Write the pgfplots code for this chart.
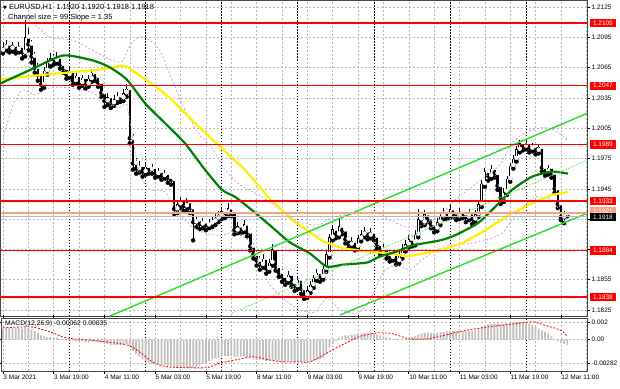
\documentclass[border=0pt]{standalone}
\usepackage{pgfplots}
\usepackage{pgfplotstable}
\pgfplotsset{compat=1.18}
\usepackage{fontspec}
\setmainfont{Liberation Sans}
\newfontfamily\dejavu{DejaVu Sans}
\definecolor{mtred}{RGB}{255,0,0}
\definecolor{mtorange}{RGB}{244,164,128}
\definecolor{mtlime}{RGB}{40,220,40}
\definecolor{mtlimed}{RGB}{110,230,110}
\definecolor{mtgreen}{RGB}{0,128,0}
\definecolor{mtyellow}{RGB}{255,240,0}
\definecolor{mtviolet}{RGB}{200,150,225}
\definecolor{mtgrid}{RGB}{185,185,185}
\definecolor{mtsilver}{RGB}{192,192,192}
\definecolor{mtframe}{RGB}{70,70,70}

\pgfplotstableread{
i o h l c
0 1.2082 1.2090 1.2079 1.2085
1 1.2085 1.2092 1.2082 1.2088
2 1.2088 1.2091 1.2080 1.2084
3 1.2084 1.2090 1.2081 1.2087
4 1.2087 1.2089 1.2079 1.2083
5 1.2083 1.2090 1.2080 1.2086
6 1.2086 1.2088 1.2074 1.2080
7 1.2080 1.2112 1.2076 1.2095
8 1.2095 1.2104 1.2082 1.2088
9 1.2088 1.2092 1.2070 1.2076
10 1.2076 1.2080 1.2060 1.2065
11 1.2065 1.2070 1.2052 1.2058
12 1.2058 1.2061 1.2043 1.2048
13 1.2048 1.2066 1.2045 1.2062
14 1.2062 1.2074 1.2058 1.2070
15 1.2070 1.2079 1.2066 1.2074
16 1.2074 1.2078 1.2068 1.2072
17 1.2072 1.2080 1.2069 1.2075
18 1.2075 1.2077 1.2064 1.2068
19 1.2068 1.2071 1.2060 1.2064
20 1.2064 1.2067 1.2054 1.2058
21 1.2058 1.2066 1.2055 1.2062
22 1.2062 1.2064 1.2048 1.2052
23 1.2052 1.2061 1.2049 1.2057
24 1.2057 1.2059 1.2045 1.2050
25 1.2050 1.2058 1.2047 1.2055
26 1.2055 1.2057 1.2044 1.2049
27 1.2049 1.2058 1.2046 1.2054
28 1.2054 1.2064 1.2051 1.2060
29 1.2060 1.2063 1.2052 1.2056
30 1.2056 1.2058 1.2046 1.2050
31 1.2050 1.2053 1.2036 1.2040
32 1.2040 1.2043 1.2026 1.2032
33 1.2032 1.2040 1.2028 1.2036
34 1.2036 1.2038 1.2025 1.2030
35 1.2030 1.2038 1.2027 1.2034
36 1.2034 1.2041 1.2030 1.2037
37 1.2037 1.2040 1.2031 1.2035
38 1.2035 1.2044 1.2032 1.2040
39 1.2040 1.2049 1.2036 1.2044
40 1.2044 1.2047 1.1990 1.1995
41 1.1995 1.1999 1.1964 1.1970
42 1.1970 1.1975 1.1960 1.1965
43 1.1965 1.1973 1.1961 1.1968
44 1.1968 1.1971 1.1957 1.1962
45 1.1962 1.1972 1.1959 1.1967
46 1.1967 1.1970 1.1960 1.1964
47 1.1964 1.1970 1.1960 1.1966
48 1.1966 1.1968 1.1956 1.1960
49 1.1960 1.1966 1.1957 1.1962
50 1.1962 1.1964 1.1954 1.1958
51 1.1958 1.1964 1.1955 1.1960
52 1.1960 1.1962 1.1951 1.1956
53 1.1956 1.1959 1.1949 1.1954
54 1.1954 1.1956 1.1920 1.1925
55 1.1925 1.1934 1.1921 1.1930
56 1.1930 1.1937 1.1926 1.1934
57 1.1934 1.1936 1.1923 1.1928
58 1.1928 1.1936 1.1924 1.1932
59 1.1932 1.1934 1.1921 1.1926
60 1.1926 1.1929 1.1894 1.1912
61 1.1912 1.1918 1.1907 1.1914
62 1.1914 1.1916 1.1905 1.1910
63 1.1910 1.1916 1.1906 1.1912
64 1.1912 1.1914 1.1904 1.1909
65 1.1909 1.1915 1.1906 1.1911
66 1.1911 1.1917 1.1907 1.1913
67 1.1913 1.1920 1.1909 1.1916
68 1.1916 1.1923 1.1912 1.1919
69 1.1919 1.1927 1.1915 1.1923
70 1.1923 1.1926 1.1916 1.1921
71 1.1921 1.1931 1.1918 1.1926
72 1.1926 1.1929 1.1918 1.1922
73 1.1922 1.1924 1.1900 1.1904
74 1.1904 1.1912 1.1901 1.1908
75 1.1908 1.1911 1.1901 1.1905
76 1.1905 1.1914 1.1902 1.1910
77 1.1910 1.1912 1.1898 1.1902
78 1.1902 1.1905 1.1884 1.1888
79 1.1888 1.1891 1.1876 1.1880
80 1.1880 1.1884 1.1869 1.1874
81 1.1874 1.1878 1.1865 1.1870
82 1.1870 1.1880 1.1867 1.1876
83 1.1876 1.1878 1.1861 1.1866
84 1.1866 1.1876 1.1863 1.1872
85 1.1872 1.1890 1.1869 1.1885
86 1.1885 1.1887 1.1864 1.1868
87 1.1868 1.1871 1.1858 1.1862
88 1.1862 1.1866 1.1853 1.1858
89 1.1858 1.1861 1.1850 1.1855
90 1.1855 1.1864 1.1852 1.1860
91 1.1860 1.1862 1.1848 1.1852
92 1.1852 1.1855 1.1844 1.1849
93 1.1849 1.1859 1.1846 1.1855
94 1.1855 1.1857 1.1841 1.1846
95 1.1846 1.1849 1.1836 1.1840
96 1.1840 1.1849 1.1837 1.1845
97 1.1845 1.1854 1.1842 1.1850
98 1.1850 1.1860 1.1847 1.1857
99 1.1857 1.1866 1.1854 1.1862
100 1.1862 1.1864 1.1853 1.1858
101 1.1858 1.1869 1.1855 1.1866
102 1.1866 1.1883 1.1863 1.1880
103 1.1880 1.1900 1.1877 1.1897
104 1.1897 1.1909 1.1894 1.1905
105 1.1905 1.1907 1.1896 1.1900
106 1.1900 1.1916 1.1897 1.1908
107 1.1908 1.1910 1.1900 1.1904
108 1.1904 1.1906 1.1891 1.1895
109 1.1895 1.1898 1.1886 1.1890
110 1.1890 1.1897 1.1887 1.1893
111 1.1893 1.1895 1.1884 1.1888
112 1.1888 1.1899 1.1885 1.1896
113 1.1896 1.1904 1.1893 1.1900
114 1.1900 1.1907 1.1897 1.1903
115 1.1903 1.1905 1.1895 1.1899
116 1.1899 1.1906 1.1896 1.1902
117 1.1902 1.1904 1.1894 1.1898
118 1.1898 1.1900 1.1886 1.1890
119 1.1890 1.1893 1.1880 1.1884
120 1.1884 1.1890 1.1881 1.1886
121 1.1886 1.1888 1.1876 1.1880
122 1.1880 1.1883 1.1873 1.1877
123 1.1877 1.1884 1.1874 1.1880
124 1.1880 1.1882 1.1870 1.1874
125 1.1874 1.1883 1.1871 1.1879
126 1.1879 1.1890 1.1876 1.1886
127 1.1886 1.1894 1.1883 1.1890
128 1.1890 1.1899 1.1887 1.1895
129 1.1895 1.1898 1.1888 1.1892
130 1.1892 1.1904 1.1889 1.1900
131 1.1900 1.1925 1.1897 1.1915
132 1.1915 1.1918 1.1908 1.1912
133 1.1912 1.1924 1.1909 1.1920
134 1.1920 1.1922 1.1912 1.1916
135 1.1916 1.1918 1.1906 1.1910
136 1.1910 1.1913 1.1902 1.1906
137 1.1906 1.1916 1.1903 1.1912
138 1.1912 1.1922 1.1909 1.1918
139 1.1918 1.1926 1.1915 1.1922
140 1.1922 1.1924 1.1915 1.1919
141 1.1919 1.1929 1.1916 1.1925
142 1.1925 1.1927 1.1917 1.1921
143 1.1921 1.1924 1.1914 1.1918
144 1.1918 1.1926 1.1915 1.1922
145 1.1922 1.1925 1.1916 1.1920
146 1.1920 1.1922 1.1912 1.1917
147 1.1917 1.1925 1.1914 1.1921
148 1.1921 1.1923 1.1910 1.1915
149 1.1915 1.1924 1.1912 1.1920
150 1.1920 1.1934 1.1917 1.1930
151 1.1930 1.1954 1.1927 1.1950
152 1.1950 1.1966 1.1947 1.1962
153 1.1962 1.1964 1.1953 1.1958
154 1.1958 1.1969 1.1955 1.1965
155 1.1965 1.1967 1.1956 1.1960
156 1.1960 1.1962 1.1944 1.1948
157 1.1948 1.1950 1.1930 1.1936
158 1.1936 1.1946 1.1932 1.1942
159 1.1942 1.1958 1.1939 1.1955
160 1.1955 1.1971 1.1952 1.1968
161 1.1968 1.1978 1.1965 1.1975
162 1.1975 1.1987 1.1972 1.1984
163 1.1984 1.1993 1.1981 1.1990
164 1.1990 1.1992 1.1983 1.1987
165 1.1987 1.1993 1.1984 1.1990
166 1.1990 1.1991 1.1981 1.1985
167 1.1985 1.1990 1.1982 1.1987
168 1.1987 1.1989 1.1979 1.1983
169 1.1983 1.1989 1.1980 1.1986
170 1.1986 1.1988 1.1962 1.1966
171 1.1966 1.1969 1.1958 1.1962
172 1.1962 1.1969 1.1959 1.1966
173 1.1966 1.1968 1.1956 1.1960
174 1.1960 1.1962 1.1941 1.1945
175 1.1945 1.1947 1.1926 1.1930
176 1.1930 1.1932 1.1914 1.1917
177 1.1917 1.1923 1.1911 1.1920
178 1.1920 1.1920 1.1918 1.1918
}\candles

\pgfplotstableread{
i m
0 0.0013
1 0.0014
2 0.0014
3 0.0014
4 0.0014
5 0.0014
6 0.0013
7 0.0014
8 0.0014
9 0.0012
10 0.0010
11 0.0008
12 0.0005
13 0.0004
14 0.0003
15 0.0003
16 0.0002
17 0.0002
18 0.0001
19 0.0001
20 0.0000
21 -0.0001
22 -0.0001
23 -0.0002
24 -0.0002
25 -0.0002
26 -0.0003
27 -0.0003
28 -0.0002
29 -0.0002
30 -0.0003
31 -0.0004
32 -0.0005
33 -0.0005
34 -0.0006
35 -0.0006
36 -0.0006
37 -0.0006
38 -0.0006
39 -0.0005
40 -0.0009
41 -0.0013
42 -0.0017
43 -0.0020
44 -0.0023
45 -0.0025
46 -0.0027
47 -0.0028
48 -0.0029
49 -0.0030
50 -0.0030
51 -0.0030
52 -0.0031
53 -0.0031
54 -0.0032
55 -0.0033
56 -0.0033
57 -0.0033
58 -0.0033
59 -0.0033
60 -0.0033
61 -0.0032
62 -0.0031
63 -0.0029
64 -0.0027
65 -0.0025
66 -0.0023
67 -0.0022
68 -0.0021
69 -0.0020
70 -0.0019
71 -0.0019
72 -0.0019
73 -0.0020
74 -0.0020
75 -0.0020
76 -0.0020
77 -0.0021
78 -0.0022
79 -0.0023
80 -0.0024
81 -0.0024
82 -0.0024
83 -0.0025
84 -0.0025
85 -0.0024
86 -0.0024
87 -0.0025
88 -0.0025
89 -0.0026
90 -0.0026
91 -0.0026
92 -0.0026
93 -0.0026
94 -0.0026
95 -0.0027
96 -0.0027
97 -0.0026
98 -0.0025
99 -0.0024
100 -0.0023
101 -0.0021
102 -0.0017
103 -0.0010
104 -0.0005
105 -0.0001
106 0.0002
107 0.0004
108 0.0005
109 0.0005
110 0.0006
111 0.0006
112 0.0007
113 0.0007
114 0.0008
115 0.0008
116 0.0008
117 0.0007
118 0.0006
119 0.0005
120 0.0004
121 0.0003
122 0.0002
123 0.0001
124 0.0001
125 0.0000
126 0.0001
127 0.0001
128 0.0002
129 0.0003
130 0.0004
131 0.0006
132 0.0007
133 0.0008
134 0.0008
135 0.0008
136 0.0008
137 0.0008
138 0.0009
139 0.0009
140 0.0010
141 0.0010
142 0.0010
143 0.0010
144 0.0010
145 0.0010
146 0.0010
147 0.0010
148 0.0010
149 0.0011
150 0.0013
151 0.0015
152 0.0017
153 0.0018
154 0.0019
155 0.0019
156 0.0019
157 0.0018
158 0.0018
159 0.0019
160 0.0020
161 0.0020
162 0.0021
163 0.0021
164 0.0021
165 0.0020
166 0.0019
167 0.0017
168 0.0015
169 0.0013
170 0.0011
171 0.0009
172 0.0007
173 0.0004
174 0.0001
175 -0.0002
176 -0.0004
177 -0.0005
178 -0.0006
}\macd

\tikzset{
  lbl/.style={anchor=west, xshift=3bp, text=white, font=\fontsize{6.5}{7}\selectfont,
    inner xsep=2.8bp, inner ysep=0.8bp, minimum height=8.5bp},
}
\pgfplotsset{
  mtcommon/.style={
    scale only axis, width=586bp, anchor=south west,
    xmin=-0.63, xmax=184.23,
    scaled y ticks=false, scaled x ticks=false,
    axis line style={draw=mtframe, line width=1bp},
    major grid style={mtgrid, line width=0.5bp, dash pattern=on 2bp off 2bp},
    minor grid style={mtgrid, line width=0.5bp, dash pattern=on 2bp off 2bp},
    xtick={0,16,...,176}, minor xtick={8,24,...,184},
    xmajorgrids, xminorgrids, ymajorgrids,
    minor tick length=0pt,
    yticklabel pos=right,
    tick align=outside,
    ytick style={draw=black, line width=0.6bp},
    ticklabel style={font=\fontsize{6.5}{7}\selectfont, text=black},
    yticklabel style={anchor=west, inner sep=1.5bp},
    extra x ticks={21,45,69,93,117,141,165},
    extra x tick labels={},
    extra x tick style={grid=major, major tick length=0pt,
      major grid style={black, line width=0.7bp, dash pattern=on 1.5bp off 1.5bp}},
    clip mode=individual,
  },
}
\begin{document}
\begin{tikzpicture}[x=1bp,y=1bp]
\path[use as bounding box, fill=white] (0,0) rectangle (620,388);
% ---------------- price panel ----------------
\begin{axis}[mtcommon,
  at={(1bp,72bp)}, height=315bp,
  ymin=1.18191, ymax=1.21309,
  xticklabels={}, xtick style={draw=none}, major tick length=3bp,
  ytick={1.1825,1.1855,1.1885,1.1915,1.1945,1.1975,1.2005,1.2035,1.2065,1.2095,1.2125},
  yticklabels={1.1825,1.1855,,,1.1945,1.1975,1.2005,1.2035,1.2065,1.2095,1.2125},
]
% candles: wicks
\addplot[black, only marks, mark=none, forget plot,
  error bars/.cd, y dir=plus, y explicit, error mark=none,
  error bar style={black, line width=0.8bp}]
  table[x=i, y=l, y error plus expr={\thisrow{h}-\thisrow{l}}] \candles;
% candles: bodies
\addplot[black, only marks, mark=none, forget plot,
  error bars/.cd, y dir=plus, y explicit, error mark=none,
  error bar style={black, line width=2.5bp}]
  table[x=i, y expr={min(\thisrow{o},\thisrow{c})},
        y error plus expr={max(abs(\thisrow{c}-\thisrow{o}),0.00008)}] \candles;
% hollow bull bodies
\addplot[white, only marks, mark=none, forget plot,
  error bars/.cd, y dir=plus, y explicit, error mark=none,
  error bar style={white, line width=0.8bp}]
  table[x=i, y expr={\thisrow{o}+0.00007},
        y error plus expr={max(\thisrow{c}-\thisrow{o}-0.00014,0)}] \candles;
% bands
\addplot[mtviolet, line width=0.7bp, dash pattern=on 2bp off 2bp, smooth, tension=0.4] coordinates {
(0,1.2112) (5.4,1.2117) (10.1,1.2107) (14.8,1.2095) (22.1,1.2092) (28.4,1.2082) (33.8,1.2073)
(37.5,1.2071) (40.1,1.2087) (42.6,1.2095) (45.4,1.2094) (49.5,1.2082) (53.3,1.2053) (57.4,1.2023)
(62.1,1.1998) (65.9,1.1986) (70.0,1.1964) (74.8,1.1949) (81.7,1.1937) (89.0,1.1921) (93.7,1.1912)
(99.4,1.1909) (104.1,1.1917) (111.7,1.1921) (118.0,1.1921) (122.1,1.1914) (127.4,1.1907)
(132.5,1.1909) (137.9,1.1919) (142.6,1.1934) (146.7,1.1944) (152.1,1.1957) (156.8,1.1969)
(160.6,1.1990) (164.7,1.2001) (171.0,1.2006) (175.1,1.2001) (178.2,1.1993)};
\addplot[mtviolet, line width=0.7bp, dash pattern=on 2bp off 2bp, smooth, tension=0.4] coordinates {
(0,1.1996) (3.2,1.2028) (6.3,1.2043) (10.1,1.2038) (14.8,1.2045) (21.1,1.2045) (27.4,1.2041)
(32.2,1.2033) (36.3,1.2025) (39.1,1.2028) (41.0,1.1993) (43.2,1.1959) (46.4,1.1944) (51.1,1.1942)
(55.2,1.1922) (59.0,1.1909) (63.7,1.1901) (68.5,1.1899) (73.2,1.1902) (77.3,1.1894) (80.4,1.1873)
(84.2,1.1850) (89.0,1.1835) (93.7,1.1825) (98.4,1.1823) (102.2,1.1837) (106.3,1.1825)
(111.7,1.1822) (115.8,1.1835) (119.9,1.1862) (123.7,1.1869) (128.4,1.1865) (131.5,1.1873)
(136.3,1.1884) (141.0,1.1889) (147.3,1.1891) (152.1,1.1894) (157.4,1.1901) (162.5,1.1922)
(167.8,1.1937) (173.2,1.1934) (175.7,1.1922) (178.2,1.1906)};
% moving averages
\addplot[mtyellow, line width=2.2bp] coordinates {
(-1,1.2053) (10,1.2057) (20.2,1.2060) (30.6,1.2063) (37.5,1.2067) (39.1,1.2066) (49.5,1.2043)
(53.3,1.2033) (60.6,1.2010) (69.1,1.1985) (76.3,1.1964) (83.6,1.1937) (89,1.1921) (92.1,1.1912)
(95.9,1.1904) (100.9,1.1893) (107.3,1.1886) (114.8,1.1883) (122.1,1.1881) (127.4,1.1878)
(132.5,1.1881) (137.9,1.1884) (144.8,1.1891) (152.1,1.1904) (160.6,1.1921) (167.8,1.1932)
(173.2,1.1939) (178.2,1.1942)};
\addplot[mtgreen, line width=2.2bp, smooth, tension=0.4] coordinates {
(-1,1.2049) (9.5,1.2064) (19,1.2077) (28.4,1.2072) (33.8,1.2065) (39.1,1.2053) (45,1.2029)
(51.1,1.2010) (57.4,1.1990) (63.7,1.1964) (69.1,1.1944) (73.2,1.1937) (78.5,1.1924) (84.9,1.1907)
(90.5,1.1892) (96.8,1.1881) (102.2,1.1868) (107.3,1.1870) (114.8,1.1872) (118.9,1.1878)
(124.3,1.1883) (129.3,1.1889) (137.9,1.1894) (142.6,1.1899) (149.8,1.1911) (155.2,1.1927)
(160.6,1.1944) (166.9,1.1957) (173.2,1.1962) (178.2,1.1960)};
% channel
\addplot[mtlime, line width=1.4bp] coordinates {(33.75,1.18191) (184.5,1.20200)};
\addplot[mtlime, line width=1.4bp] coordinates {(106.3,1.18201) (184.5,1.19210)};
\addplot[mtlimed, line width=0.9bp, dash pattern=on 1.5bp off 1.5bp] coordinates {(72.2,1.18220) (184.5,1.19735)};
% horizontal levels
\addplot[gray!55, line width=0.5bp] coordinates {(-1,1.1918) (185,1.1918)};
\addplot[mtorange, line width=1.6bp] coordinates {(-1,1.1921) (185,1.1921)};
\addplot[mtred, line width=1.3bp] coordinates {(-1,1.2109) (185,1.2109)};
\addplot[mtred, line width=1.3bp] coordinates {(-1,1.2047) (185,1.2047)};
\addplot[mtred, line width=1.3bp] coordinates {(-1,1.1989) (185,1.1989)};
\addplot[mtred, line width=1.3bp] coordinates {(-1,1.1933) (185,1.1933)};
\addplot[mtred, line width=1.3bp] coordinates {(-1,1.1884) (185,1.1884)};
\addplot[mtred, line width=1.3bp] coordinates {(-1,1.1838) (185,1.1838)};
\node[lbl, fill=mtred] at (axis cs:184.23,1.2109) {1.2109};
\node[lbl, fill=mtred] at (axis cs:184.23,1.2047) {1.2047};
\node[lbl, fill=mtred] at (axis cs:184.23,1.1989) {1.1989};
\node[lbl, fill=mtred] at (axis cs:184.23,1.1933) {1.1933};
\node[lbl, fill=mtorange] at (axis cs:184.23,1.1923) {1.1921};
\node[lbl, fill=black] at (axis cs:184.23,1.1917) {1.1918};
\node[lbl, fill=mtred] at (axis cs:184.23,1.1884) {1.1884};
\node[lbl, fill=mtred] at (axis cs:184.23,1.1838) {1.1838};
\end{axis}
% ---------------- MACD panel ----------------
\begin{axis}[mtcommon,
  at={(1bp,17bp)}, height=53bp,
  ymin=-0.00368, ymax=0.00255,
  major tick length=3bp,
  xticklabels={3 Mar 2021,3 Mar 19:00,4 Mar 11:00,5 Mar 03:00,5 Mar 19:00,8 Mar 11:00,9 Mar 03:00,9 Mar 19:00,10 Mar 11:00,11 Mar 03:00,11 Mar 19:00,12 Mar 11:00},
  xticklabel style={anchor=north west, inner sep=0.8bp, xshift=-0.5bp},
  xtick style={draw=black, line width=0.6bp},
  ytick={-0.00282,0,0.002},
  yticklabels={-0.00282,0.00,0.002},
]
\addplot[ybar, bar width=1.8bp, bar shift=0pt, fill=mtsilver, draw=none] table[x=i, y=m] \macd;
\addplot[mtred, line width=0.8bp, dash pattern=on 2bp off 1.5bp, smooth, tension=0.4] coordinates {
(0,0.0014) (9,0.0015) (15,0.0009) (20,0.0002) (29,-0.0001) (39,-0.0006) (43,-0.0014)
(47,-0.0026) (52,-0.0032) (64,-0.0033) (68,-0.0028) (73,-0.0024) (79,-0.0020) (83,-0.0023)
(88,-0.0026) (94,-0.0026) (97,-0.0026) (104,-0.0012) (112,0.0003) (118,0.0008) (123,0.0007)
(128,0.0001) (134,0.0001) (139,0.0005) (146,0.0011) (153,0.0015) (162,0.0019) (167,0.0021)
(171,0.0017) (176,0.0011) (178,0.0004)};
\end{axis}
% header texts
\node[anchor=west, inner sep=0pt, font=\fontsize{7.5}{8}\selectfont] at (3,381)
  {{\dejavu\fontsize{5}{6}\selectfont ▼}\ EURUSD,H1\ \ 1.1920 1.1920 1.1918 1.1918};
\node[anchor=west, inner sep=0pt, font=\fontsize{7.5}{8}\selectfont] at (8,370) {Channel size = 99 Slope = 1.35};
\node[anchor=west, inner sep=0pt, font=\fontsize{6.8}{7}\selectfont] at (5,64) {MACD(12,26,9) -0.00062 0.00035};
\end{tikzpicture}
\end{document}
